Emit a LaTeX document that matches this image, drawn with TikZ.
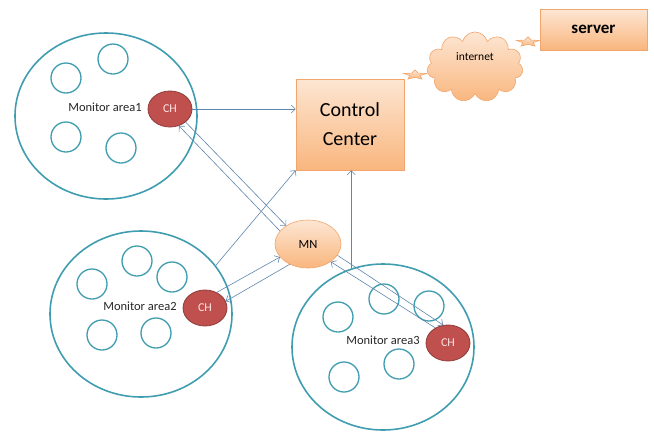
\documentclass[tikz,border=0pt]{standalone}
\usepackage{fontspec}
\setmainfont{Carlito}
\usetikzlibrary{positioning,shapes.geometric,shapes.symbols,arrows.meta}
\definecolor{arealine}{HTML}{3F9DAF}
\definecolor{linkblue}{HTML}{5F86AD}
\definecolor{chred}{HTML}{C0504D}
\definecolor{chedge}{HTML}{8E3B39}
\definecolor{boxtop}{HTML}{FDE6D3}
\definecolor{boxbot}{HTML}{F9B67E}
\definecolor{boxedge}{HTML}{F2A66E}

\begin{document}
\begin{tikzpicture}[x=1pt,y=-1pt,>={Straight Barb[length=4pt,width=8pt]},
	area/.style={ellipse,draw=arealine,line width=1.6pt,minimum width=182pt,minimum height=166pt},
	sensor/.style={circle,draw=arealine,line width=1.3pt,minimum size=30pt,inner sep=0pt},
	head/.style={ellipse,fill=chred,draw=chedge,line width=0.8pt,minimum width=44pt,minimum height=36pt,
		text=red!10,font=\fontsize{12}{14}\selectfont},
	tag/.style={text=black!85,font=\fontsize{12.5}{14}\selectfont},
	orange/.style={top color=boxtop,bottom color=boxbot,draw=boxedge,line width=0.6pt},
	spark/.style={star,star points=5,star point ratio=2.2,orange,minimum size=12pt,inner sep=0pt,xscale=2,yscale=0.85},
	link/.style={->,draw=linkblue,line width=0.6pt}]
	\useasboundingbox (0,0) rectangle (654,432);
	% monitor areas
	\node[area] (a1) at (106,116) {};
	\node[area] (a2) at (141,314) {};
	\node[area] (a3) at (383,347) {};
	\foreach \p [count=\i] in {(66,78),(113,59),(66,137),(121,148)}
		\node[sensor] (s1\i) at \p {};
	\foreach \p [count=\i] in {(92,284),(137,261),(172,277),(102,335),(156,333)}
		\node[sensor] (s2\i) at \p {};
	\foreach \p [count=\i] in {(338,317),(384,299),(429,306),(344,377),(399,364)}
		\node[sensor] (s3\i) at \p {};
	\node[tag] (m1) at (105,107) {Monitor area1};
	\node[tag] (m2) at (140,306) {Monitor area2};
	\node[tag] (m3) at (383,340) {Monitor area3};
	\node[head] (ch1) at (170,109) {CH};
	\node[head] (ch2) at (205,308) {CH};
	\node[head] (ch3) at (448,343) {CH};
	% centre, MN, internet, server
	\node[orange,minimum width=108pt,minimum height=91pt,align=center,
		font=\fontsize{20}{29}\selectfont] (cc) at (350,124.5) {Control\\Center};
	\node[ellipse,orange,minimum width=66pt,minimum height=48pt,font=\fontsize{12.5}{14}\selectfont] (mn) at (308,244) {MN};
	\node[cloud,cloud puffs=11,aspect=1.4,orange,minimum width=96pt,minimum height=70pt,
		label={[font=\fontsize{11.5}{14}\selectfont,yshift=10pt]center:internet}] (net) at (475,67) {};
	\node[orange,minimum width=107pt,minimum height=41pt,font=\bfseries\fontsize{17}{20}\selectfont] (srv) at (593.5,29.5) {server};
	\node[spark] (k1) at (415,75) {};
	\node[spark] (k2) at (528,42) {};
	% links
	\draw[link] (ch1.east) -- (ch1.east -| cc.west);
	\draw[link] (ch1.-40) -- (mn.140);
	\draw[link] (mn.155) -- (ch1.-62);
	\draw[link] (a2.33) -- (cc.south west);
	\draw[link] (ch2.53) -- (mn.-155);
	\draw[link] (mn.-132) -- (ch2.18);
	\draw[link] (a3.112) -- (a3.112 |- cc.south);
	\draw[link] (ch3.130) -- (mn.-38);
	\draw[link] (mn.-21) -- (ch3.105);
\end{tikzpicture}
\end{document}
